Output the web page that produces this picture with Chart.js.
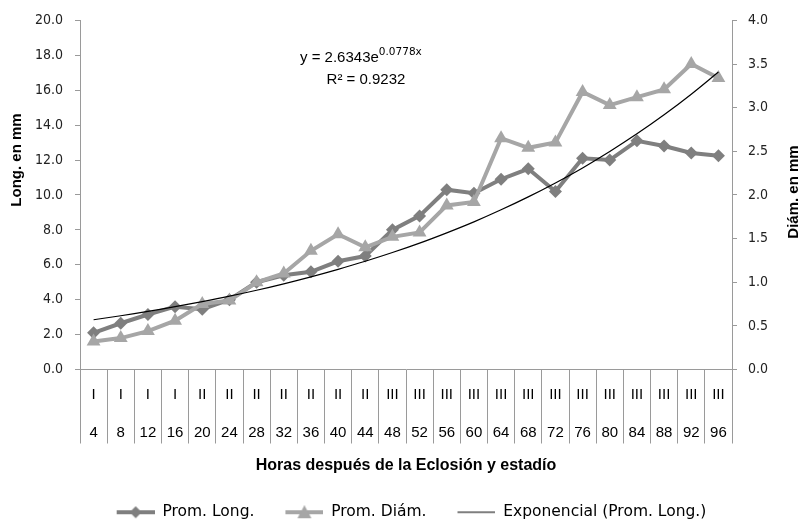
<!DOCTYPE html>
<html>
<head>
<meta charset="utf-8">
<script src="https://cdn.jsdelivr.net/npm/chart.js@4.4.1/dist/chart.umd.min.js"></script>
<style>
  html, body { margin: 0; padding: 0; background: #fff; }
  canvas { display: block; }
</style>
</head>
<body>
<canvas id="chart" width="802" height="525"></canvas>
<script>
const hours = ['4', '8', '12', '16', '20', '24', '28', '32', '36', '40', '44', '48',
               '52', '56', '60', '64', '68', '72', '76', '80', '84', '88', '92', '96'];
const stages = ['I', 'I', 'I', 'I', 'II', 'II', 'II', 'II', 'II', 'II', 'II', 'III',
                'III', 'III', 'III', 'III', 'III', 'III', 'III', 'III', 'III', 'III', 'III', 'III'];

// Prom. Long. (mm, left axis)
const promLong = [2.1, 2.65, 3.15, 3.6, 3.45, 4.0, 5.0, 5.4, 5.6, 6.2, 6.5, 8.0,
                  8.8, 10.3, 10.1, 10.9, 11.5, 10.2, 12.1, 12.0, 13.1, 12.8, 12.4, 12.25];
// Prom. Diam. (mm, right axis)
const promDiam = [0.32, 0.36, 0.44, 0.56, 0.75, 0.79, 1.0, 1.1, 1.36, 1.55, 1.4, 1.52,
                  1.57, 1.88, 1.92, 2.65, 2.54, 2.6, 3.18, 3.03, 3.12, 3.21, 3.5, 3.34];
// Exponential trendline of Prom. Long.
const trendLong = [2.85, 3.08, 3.33, 3.60, 3.89, 4.20, 4.54, 4.91, 5.31, 5.74, 6.20, 6.70,
                   7.24, 7.83, 8.46, 9.15, 9.89, 10.69, 11.55, 12.49, 13.50, 14.59, 15.77, 17.04];

const leftTitle = 'Long. en mm';
const rightTitle = 'Diám. en mm';
const xTitle = 'Horas después de la Eclosión y estadío';
const eqMain = 'y = 2.6343e';
const eqExp = '0.0778x';
const eqR2 = 'R² = 0.9232';

const longColor = '#7f7f7f';
const diamColor = '#a6a6a6';
const axisColor = '#9a9a9a';

// legend sample: empty margin on the left, then line with marker
function legendIcon(color, style, lineWidth) {
    const m = 21;
    const c = document.createElement('canvas');
    c.width = m + 38;
    c.height = 14;
    const g = c.getContext('2d');
    g.strokeStyle = color;
    g.lineWidth = lineWidth;
    g.beginPath();
    g.moveTo(m, 7);
    g.lineTo(m + 38, 7);
    g.stroke();
    g.fillStyle = color;
    const cx = m + 19;
    if (style === 'diamond') {
        g.beginPath();
        g.moveTo(cx, 1); g.lineTo(cx + 6, 7); g.lineTo(cx, 13); g.lineTo(cx - 6, 7);
        g.closePath();
        g.fill();
    } else if (style === 'triangle') {
        g.beginPath();
        g.moveTo(cx, 0); g.lineTo(cx + 7, 13); g.lineTo(cx - 7, 13);
        g.closePath();
        g.fill();
    }
    return c;
}

const icons = [
    legendIcon(longColor, 'diamond', 4),
    legendIcon(diamColor, 'triangle', 4),
    legendIcon('#000', 'none', 1.2)
];
const legendNames = ['Prom. Long.', 'Prom. Diám.', 'Exponencial (Prom. Long.)'];

const extraText = {
    id: 'extraText',
    afterDraw(chart) {
        const ctx = chart.ctx;
        ctx.save();
        ctx.fillStyle = '#000';
        ctx.textBaseline = 'middle';
        ctx.textAlign = 'center';
        ctx.font = 'bold 15px "Liberation Sans", Arial, sans-serif';
        ctx.save();
        ctx.translate(17, 160);
        ctx.rotate(-Math.PI / 2);
        ctx.fillText(leftTitle, 0, 0);
        ctx.restore();
        ctx.save();
        ctx.translate(794, 192);
        ctx.rotate(-Math.PI / 2);
        ctx.fillText(rightTitle, 0, 0);
        ctx.restore();

        // trendline equation
        ctx.textAlign = 'left';
        ctx.font = '15px "Liberation Sans", Arial, sans-serif';
        const x0 = 300;
        ctx.fillText(eqMain, x0, 58);
        const w = ctx.measureText(eqMain).width;
        ctx.font = '10.5px "DejaVu Sans", sans-serif';
        ctx.fillText(eqExp, x0 + w, 52);
        ctx.font = '15px "Liberation Sans", Arial, sans-serif';
        ctx.textAlign = 'center';
        ctx.fillText(eqR2, 366, 80);
        ctx.restore();
    }
};

new Chart(document.getElementById('chart'), {
    type: 'line',
    data: {
        labels: hours.map((h, i) => [stages[i], h]),
        datasets: [
            {
                label: legendNames[0],
                data: promLong,
                yAxisID: 'y',
                borderColor: longColor,
                backgroundColor: longColor,
                borderWidth: 4,
                pointStyle: 'rectRot',
                pointRadius: 6.5,
                pointBorderWidth: 0,
                order: 3
            },
            {
                label: legendNames[1],
                data: promDiam,
                yAxisID: 'y1',
                borderColor: diamColor,
                backgroundColor: diamColor,
                borderWidth: 4,
                pointStyle: 'triangle',
                pointRadius: 8,
                pointBorderWidth: 0,
                order: 2
            },
            {
                label: legendNames[2],
                data: trendLong,
                yAxisID: 'y',
                borderColor: '#000',
                borderWidth: 1.2,
                pointRadius: 0,
                tension: 0.4,
                order: 1
            }
        ]
    },
    options: {
        responsive: false,
        animation: false,
        layout: { padding: { top: 15, left: 0, right: 0, bottom: -5 } },
        plugins: {
            tooltip: { enabled: false },
            legend: {
                position: 'bottom',
                labels: {
                    usePointStyle: true,
                    pointStyleWidth: 59,
                    padding: 10,
                    color: '#000',
                    font: { family: '"DejaVu Sans", sans-serif', size: 15.5 },
                    generateLabels: () => legendNames.map((name, i) => ({
                        text: name,
                        pointStyle: icons[i],
                        fillStyle: '#000',
                        strokeStyle: '#000',
                        lineWidth: 0,
                        hidden: false,
                        datasetIndex: i
                    }))
                }
            }
        },
        scales: {
            x: {
                offset: true,
                grid: {
                    offset: true,
                    drawOnChartArea: false,
                    tickLength: 74,
                    color: axisColor
                },
                border: { color: axisColor },
                ticks: {
                    autoSkip: false,
                    maxRotation: 0,
                    padding: -68,
                    color: '#000',
                    font: { family: '"Liberation Sans", Arial, sans-serif', size: 15, lineHeight: 38 / 15 }
                },
                title: {
                    display: true,
                    text: xTitle,
                    color: '#000',
                    font: { family: '"Liberation Sans", Arial, sans-serif', size: 16, weight: 'bold' },
                    padding: { top: 0, bottom: 19 }
                },
                afterFit(scale) { scale.height = 125; }
            },
            y: {
                position: 'left',
                min: 0,
                max: 20,
                ticks: {
                    stepSize: 2,
                    padding: 12,
                    color: '#222',
                    font: { family: '"DejaVu Sans Condensed", "Liberation Sans", sans-serif', size: 14 },
                    callback: v => v.toFixed(1)
                },
                grid: { drawOnChartArea: false, tickLength: 5, color: axisColor },
                border: { color: axisColor },
                afterFit(scale) { scale.width = 80; }
            },
            y1: {
                position: 'right',
                min: 0,
                max: 4,
                ticks: {
                    stepSize: 0.5,
                    padding: 11,
                    color: '#222',
                    font: { family: '"DejaVu Sans Condensed", "Liberation Sans", sans-serif', size: 14 },
                    callback: v => v.toFixed(1)
                },
                grid: { drawOnChartArea: false, tickLength: 5, color: axisColor },
                border: { color: axisColor },
                afterFit(scale) { scale.width = 70; }
            }
        }
    },
    plugins: [extraText]
});
</script>
</body>
</html>
